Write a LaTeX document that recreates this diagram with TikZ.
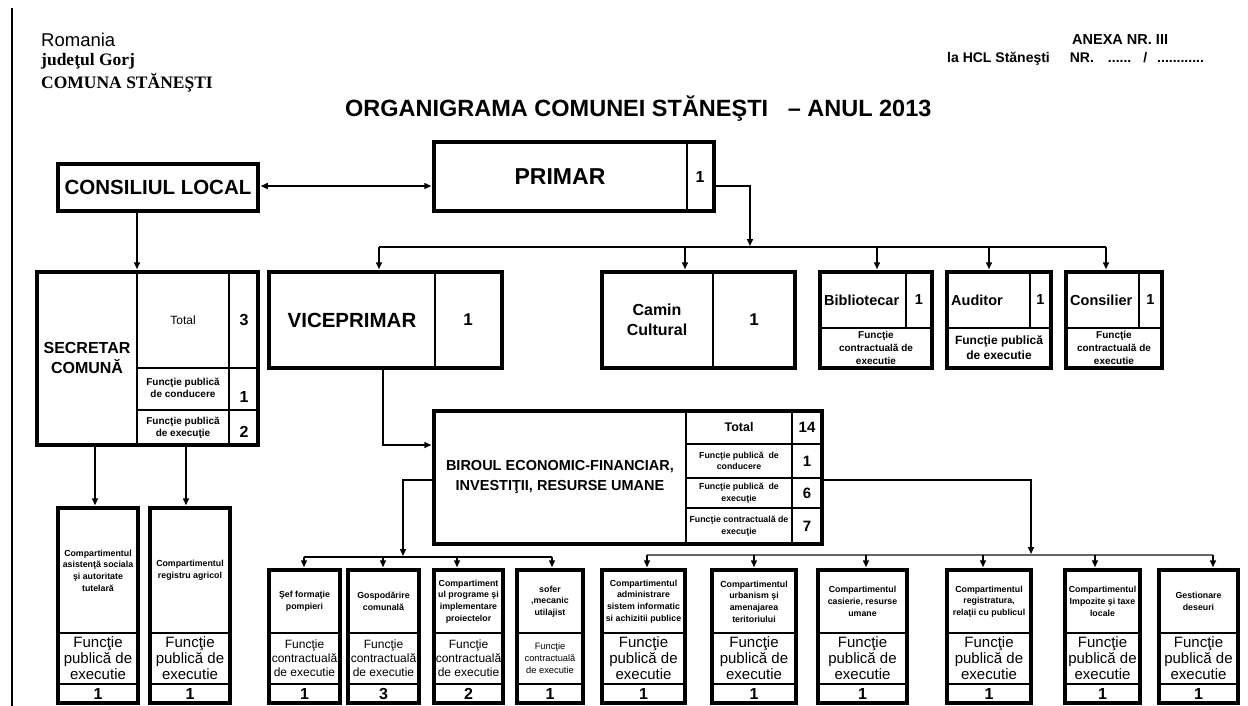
\documentclass[tikz,border=0pt]{standalone}
\usepackage{fontspec}
\setmainfont{Liberation Sans}
\newfontfamily\serifhead{Liberation Serif}
\usetikzlibrary{arrows.meta,fit}

\newcommand\fsz[2]{\fontsize{#1}{#2}\selectfont}

\tikzset{
  outer/.style={draw, line width=3.5pt, inner sep=0pt},
  cell/.style={line width=1.8pt},
  link/.style={line width=1.5pt},
  tip/.style={-{Triangle[length=7pt,width=6pt]}, shorten >=1pt},
  txt/.style={align=center, inner sep=0pt},
  small/.style={txt, font=\fsz{8.8}{11.7}\bfseries},
  num/.style={txt, font=\fsz{16}{18}\bfseries},
}

% one compartment at the bottom: name, left, right, top, title, font, function, count
\newcommand\compbox[8]{%
  \node[outer, fit={(#2,#4) (#3,703)}] (#1) {};
  \draw[cell] (#2,633) -- (#3,633) (#2,684) -- (#3,684);
  \node[small] (#1-t) at ({(#2+#3)/2},{(#4+633)/2}) {#5};
  \node[txt, font=#6] (#1-m) at ({(#2+#3)/2},658.5) {#7};
  \node[num] (#1-n) at ({(#2+#3)/2},694) {#8};
}

% one post under the mayor: name, left, divider, right, title, function text, font
\newcommand\postbox[7]{%
  \node[outer, fit={(#2,272) (#4,368)}] (#1) {};
  \draw[cell] (#2,328) -- (#4,328) (#3,272) -- (#3,328);
  \node[txt, anchor=west, font=\fsz{14.5}{17}\bfseries] (#1-t) at ({#2+4},300) {#5};
  \node[txt, font=\fsz{14.5}{17}\bfseries] (#1-n) at ({(#3+#4)/2},300) {1};
  \node[txt, font=#7] (#1-m) at ({(#2+#4)/2},348) {#6};
}

\begin{document}
\begin{tikzpicture}[x=1pt, y=-1pt]
  \fill[white] (0,0) rectangle (1248,706);
  \useasboundingbox (0,0) rectangle (1248,706);
  \draw[line width=1.2pt] (12,8) -- (12,706);

  % header
  \node[anchor=base west, inner sep=0pt, font=\fsz{18.5}{20}] (hdr1) at (41,47) {Romania};
  \node[anchor=base west, inner sep=0pt, font=\fsz{17.5}{20}\serifhead\bfseries] (hdr2) at (41,66) {judeţul Gorj};
  \node[anchor=base west, inner sep=0pt, font=\fsz{17.5}{20}\serifhead\bfseries] (hdr3) at (41,89) {COMUNA STĂNEŞTI};
  \node[anchor=base west, inner sep=0pt, font=\fsz{14.5}{16}\bfseries] (anexa) at (1072,45) {ANEXA NR. III};
  \node[anchor=base west, inner sep=0pt, font=\fsz{14}{16}\bfseries] (hcl) at (947,63)
    {la HCL Stăneşti\hspace{20pt}NR.\hspace{14pt}......\hspace{12pt}/\hspace{10pt}............};
  \node[anchor=base west, inner sep=0pt, font=\fsz{23.5}{26}\bfseries] (title) at (345,117)
    {ORGANIGRAMA COMUNEI STĂNEŞTI\ \ \ – ANUL 2013};

  % top level
  \node[outer, fit={(58,164) (258,211)}] (consiliu) {};
  \node[txt, font=\fsz{20.5}{22}\bfseries] (consiliu-t) at (158,187.5) {CONSILIUL LOCAL};

  \node[outer, fit={(434,142) (714,211)}] (primar) {};
  \draw[cell] (687,142) -- (687,211);
  \node[txt, font=\fsz{23}{25}\bfseries] (primar-t) at (560,176.5) {PRIMAR};
  \node[txt, font=\fsz{16}{17}\bfseries] (primar-n) at (700,176.5) {1};

  % secretar
  \node[outer, fit={(37,272) (258,445)}] (secr) {};
  \draw[cell] (137,272) -- (137,445) (229,272) -- (229,445) (137,368) -- (258,368) (137,410) -- (258,410);
  \node[txt, font=\fsz{16}{19.5}\bfseries] (secr-t) at (87,358) {SECRETAR\\COMUNĂ};
  \node[txt, font=\fsz{12}{14}] (secr-tot) at (183,320) {Total};
  \node[num] (secr-n1) at (244,320) {3};
  \node[txt, font=\fsz{10}{12.5}\bfseries] (secr-c) at (183,388) {Funcţie publică\\de conducere};
  \node[num] (secr-n2) at (244,397) {1};
  \node[txt, font=\fsz{10}{12.5}\bfseries] (secr-e) at (183,428) {Funcţie publică\\de execuţie};
  \node[num] (secr-n3) at (244,432) {2};

  % viceprimar and camin
  \node[outer, fit={(269,272) (502,368)}] (vicep) {};
  \draw[cell] (435,272) -- (435,368);
  \node[txt, font=\fsz{20.5}{22}\bfseries] (vicep-t) at (352,320) {VICEPRIMAR};
  \node[txt, font=\fsz{17}{19}\bfseries] (vicep-n) at (468,320) {1};

  \node[outer, fit={(602,272) (795,368)}] (camin) {};
  \draw[cell] (713,272) -- (713,368);
  \node[txt, font=\fsz{16}{20}\bfseries] (camin-t) at (657,320) {Camin\\Cultural};
  \node[txt, font=\fsz{17}{19}\bfseries] (camin-n) at (754,320) {1};

  \postbox{biblio}{820}{906}{932}{Bibliotecar}{Funcţie\\contractuală de\\executie}{\fsz{10}{13}\bfseries}
  \postbox{audit}{947}{1030}{1051}{Auditor}{Funcţie publică\\de executie}{\fsz{12}{15}\bfseries}
  \postbox{consil}{1066}{1139}{1162}{Consilier}{Funcţie\\contractuală de\\executie}{\fsz{10}{13}\bfseries}

  % biroul
  \node[outer, fit={(434,411) (822,544)}] (birou) {};
  \draw[cell] (686,411) -- (686,544) (792,411) -- (792,544)
    (686,444) -- (822,444) (686,478) -- (822,478) (686,508) -- (822,508);
  \node[txt, font=\fsz{14.5}{20}\bfseries] (birou-t) at (560,477) {BIROUL ECONOMIC-FINANCIAR,\\INVESTIŢII, RESURSE UMANE};
  \node[txt, font=\fsz{12.5}{14}\bfseries] (birou-tot) at (739,427) {Total};
  \node[txt, font=\fsz{15}{17}\bfseries] (birou-n1) at (807,427) {14};
  \node[txt, font=\fsz{8.8}{11.5}\bfseries] (birou-c) at (739,461) {Funcţie publică\ \ de\\conducere};
  \node[txt, font=\fsz{15}{17}\bfseries] (birou-n2) at (807,461) {1};
  \node[txt, font=\fsz{8.8}{11.5}\bfseries] (birou-e) at (739,493) {Funcţie publică\ \ de\\execuţie};
  \node[txt, font=\fsz{15}{17}\bfseries] (birou-n3) at (807,493) {6};
  \node[txt, font=\fsz{8.8}{11.5}\bfseries] (birou-k) at (739,526) {Funcţie contractuală de\\execuţie};
  \node[txt, font=\fsz{15}{17}\bfseries] (birou-n4) at (807,526) {7};

  % compartimente
  \compbox{asist}{58}{138}{508}{Compartimentul\\asistenţă sociala\\şi autoritate\\tutelară}{\fsz{15}{16}}{Funcţie\\publică de\\executie}{1}
  \compbox{regag}{150}{230}{508}{Compartimentul\\registru agricol}{\fsz{15}{16}}{Funcţie\\publică de\\executie}{1}
  \compbox{sef}{269}{340}{570}{Şef formaţie\\pompieri}{\fsz{12}{14}}{Funcţie\\contractuală\\de executie}{1}
  \compbox{gosp}{348}{419}{570}{Gospodărire\\comunală}{\fsz{12}{14}}{Funcţie\\contractuală\\de executie}{3}
  \compbox{progr}{434}{503}{570}{Compartiment\\ul programe şi\\implementare\\proiectelor}{\fsz{12}{14}}{Funcţie\\contractuală\\de executie}{2}
  \compbox{sofer}{517}{583}{570}{sofer\\,mecanic\\utilajist}{\fsz{9.3}{12}}{Funcţie\\contractuală\\de executie}{1}
  \compbox{admin}{602}{685}{570}{Compartimentul\\administrare\\sistem informatic\\si achizitii publice}{\fsz{15}{16}}{Funcţie\\publică de\\executie}{1}
  \compbox{urban}{712}{796}{570}{Compartimentul\\urbanism şi\\amenajarea\\teritoriului}{\fsz{15}{16}}{Funcţie\\publică de\\executie}{1}
  \compbox{casier}{818}{907}{570}{Compartimentul\\casierie, resurse\\umane}{\fsz{15}{16}}{Funcţie\\publică de\\executie}{1}
  \compbox{regis}{947}{1031}{570}{Compartimentul\\registratura,\\relaţii cu publicul}{\fsz{15}{16}}{Funcţie\\publică de\\executie}{1}
  \compbox{impoz}{1065}{1140}{570}{Compartimentul\\Impozite şi taxe\\locale}{\fsz{15}{16}}{Funcţie\\publică de\\executie}{1}
  \compbox{gestion}{1159}{1238}{570}{Gestionare\\deseuri}{\fsz{15}{16}}{Funcţie\\publică de\\executie}{1}

  % connectors
  \draw[link, {Triangle[length=7pt,width=6pt]}-{Triangle[length=7pt,width=6pt]}, shorten <=1pt, shorten >=1pt]
    (consiliu.east |- 0,186) -- (primar.west |- 0,186);
  \coordinate (topbus) at (750,247);
  \draw[link, tip] (primar.east |- 0,186) -| (topbus);
  \draw[link] (379,247) -- (1106,247);
  \foreach \b/\x in {vicep/379, camin/685, biblio/877, audit/989, consil/1106}
    \draw[link, tip] (\x,247) -- (\b.north -| \x,0);

  \draw[link, tip] (consiliu.south -| 137,0) -- (secr.north -| 137,0);
  \draw[link, tip] (secr.south -| 95,0) -- (asist.north -| 95,0);
  \draw[link, tip] (secr.south -| 186,0) -- (regag.north -| 186,0);

  \draw[link, tip] (vicep.south -| 383,0) |- (birou.west |- 0,445);

  \draw[link, tip] (birou.west |- 0,480) -| (403,557);
  \draw[link] (304,557) -- (552,557);
  \foreach \b/\x in {sef/304, gosp/383, progr/457, sofer/552}
    \draw[link, tip] (\x,557) -- (\b.north -| \x,0);

  \draw[link, tip] (birou.east |- 0,480) -| (1031,555);
  \draw[link, black!60] (647,555) -- (1213,555);
  \foreach \b/\x in {admin/647, urban/754, casier/866, regis/983, impoz/1095, gestion/1213}
    \draw[link, tip] (\x,555) -- (\b.north -| \x,0);
\end{tikzpicture}
\end{document}
